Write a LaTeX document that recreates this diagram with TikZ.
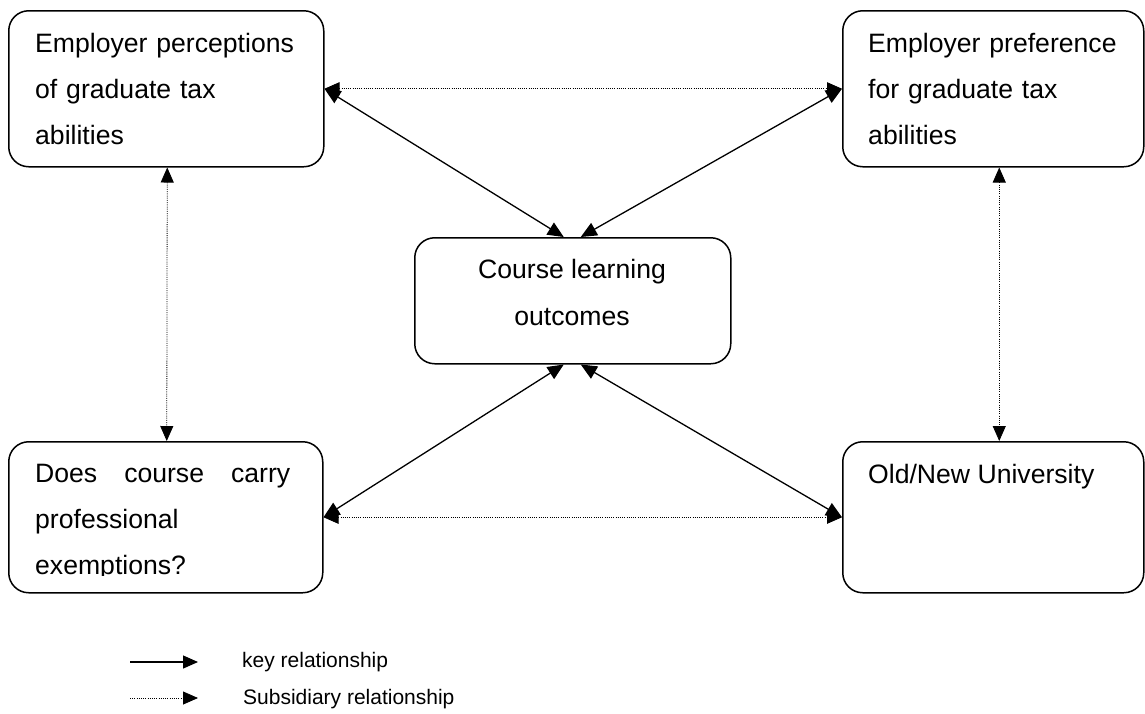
\documentclass[tikz,border=0pt]{standalone}
\usepackage{fontspec}
\setmainfont{Liberation Sans}
\usetikzlibrary{arrows.meta}
\begin{document}
\begin{tikzpicture}[x=1pt,y=-1pt,
  box/.style={draw, line width=1.5pt, rounded corners=20pt, anchor=north west, inner sep=0pt},
  txt/.style={inner sep=0pt, font=\fontsize{26.6}{46}\selectfont, anchor=base west, align=left},
  ctxt/.style={inner sep=0pt, font=\fontsize{26.6}{47}\selectfont, anchor=base, align=center},
  legtxt/.style={inner sep=0pt, font=\fontsize{21}{25}\selectfont, anchor=base west},
  keyrel/.style={line width=1.3pt, {Triangle[length=16pt,width=14pt]}-{Triangle[length=16pt,width=14pt]}},
  subrel/.style={line width=0.8pt, dash pattern=on 1pt off 1.2pt, {Triangle[length=15pt,width=13pt]}-{Triangle[length=15pt,width=13pt]}}
]
\useasboundingbox (0,0) rectangle (1145,713);

% boxes
\node[box, minimum width=315pt, minimum height=156pt] (tl) at (8,10) {};
\node[box, minimum width=301pt, minimum height=156pt] (tr) at (842,10) {};
\node[box, minimum width=316pt, minimum height=126pt] (c) at (414,237) {};
\node[box, minimum width=314pt, minimum height=151pt] (bl) at (8,441) {};
\node[box, minimum width=301pt, minimum height=151pt] (br) at (842,441) {};

% texts
\node[txt, text width=280pt] (tltext) at (35,52) {Employer perceptions\\of graduate tax\\abilities};
\node[txt, text width=270pt] (trtext) at (868,52) {Employer preference\\for graduate tax\\abilities};
\node[ctxt] (ctext1) at (572,278) {Course learning};
\node[ctxt] (ctext2) at (572,325) {outcomes};
\begin{scope}
  \clip (0,441) rectangle (400,575);
  \node[txt, text width=280pt] (bltext) at (35,482) {\hbox to 255pt{Does\hfill course\hfill carry}\\professional\\exemptions?};
\end{scope}
\node[txt] (brtext) at (868,483) {Old/New University};

% relationships
\draw[subrel] (tl.east) -- (tr.west);
\draw[subrel] (bl.east) -- (br.west);
\draw[subrel] ([xshift=1pt]tl.south) -- ([xshift=1pt]bl.north);
\draw[subrel] ([xshift=6pt]tr.south) -- ([xshift=6pt]br.north);
\draw[keyrel] (tl.east) -- ([xshift=-9pt]c.north);
\draw[keyrel] (tr.west) -- ([xshift=8pt]c.north);
\draw[keyrel] (bl.east) -- ([xshift=-9pt]c.south);
\draw[keyrel] (br.west) -- ([xshift=8pt]c.south);

% legend
\coordinate (k1) at (130,662);
\coordinate (k2) at (198,662);
\coordinate (s1) at (130,698);
\coordinate (s2) at (198,698);
\draw[line width=1.3pt, -{Triangle[length=15pt,width=13pt]}] (k1) -- (k2);
\draw[line width=0.8pt, dash pattern=on 1pt off 1.2pt, -{Triangle[length=15pt,width=13pt]}] (s1) -- (s2);
\node[legtxt] (keytext) at (242,667) {key relationship};
\node[legtxt] (subtext) at (243,704) {Subsidiary relationship};
\end{tikzpicture}
\end{document}
